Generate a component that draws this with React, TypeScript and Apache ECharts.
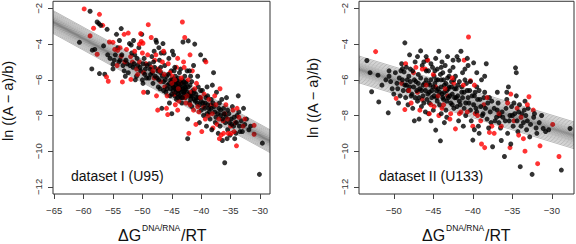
import React, { useEffect, useRef } from "react";
import * as echarts from "echarts";

// ---------- data: panel 1 (dataset I, U95) ----------
const p1Black: number[][] = [
  [-60.7,-3.9],[-58.9,-2.16],[-58.6,-5.39],[-58.5,-4.34],[-58.1,-4.3],[-57.7,-2.76],[-57.4,-2.85],[-57.1,-2.95],[-57.3,-5.65],
  [-56.4,-5.69],[-56.0,-3.17],[-55.0,-5.13],[-55.0,-5.39],[-54.4,-3.45],[-53.6,-3.13],[-54.6,-4.6],[-53.8,-4.9],[-53.3,-5.2],[-53.1,-5.5],[-54.2,-4.2],
  [-52.6,-5.1],[-52.2,-3.97],[-51.9,-4.05],[-52.4,-5.6],[-51.6,-5.3],[-51.3,-4.6],[-51.0,-5.8],[-50.8,-5.2],[-50.6,-4.2],[-50.3,-5.5],[-50.0,-6.0],[-50.1,-3.45],[-49.7,-4.8],[-49.5,-5.4],[-49.3,-5.9],[-49.1,-6.7],[-49.9,-6.2],[-51.2,-6.0],[-52.9,-5.8],
  [-48.8,-5.1],[-48.6,-5.7],[-48.4,-4.7],[-48.2,-6.2],[-47.9,-5.3],[-47.7,-3.78],[-47.6,-3.9],[-47.5,-5.9],[-47.3,-6.4],[-47.1,-4.9],[-46.9,-5.6],[-46.7,-7.6],[-46.5,-3.97],[-46.4,-6.1],[-46.2,-5.2],[-46.0,-6.7],[-45.9,-5.8],[-45.7,-6.3],[-45.5,-4.8],[-45.3,-6.9],[-45.2,-6.0],[-45.0,-7.9],[-45.1,-5.5],[-48.0,-4.4],[-46.8,-4.5],[-46.3,-4.5],
  [-44.9,-6.3],[-44.8,-6.6],[-44.7,-4.6],[-44.6,-6.1],[-44.5,-6.9],[-44.4,-5.8],[-44.3,-6.4],[-44.2,-7.1],[-44.1,-6.2],[-44.0,-6.6],[-43.9,-5.9],[-43.8,-6.3],[-43.7,-6.9],[-43.6,-6.1],[-43.5,-5.4],[-43.4,-6.5],[-43.3,-7.3],[-43.2,-6.0],[-43.1,-3.88],[-43.0,-6.7],[-42.9,-6.3],[-42.8,-5.8],[-42.7,-7.0],[-42.6,-6.5],[-42.5,-6.1],[-42.4,-5.5],[-42.3,-8.2],[-42.3,-9.3],[-42.2,-3.82],[-42.1,-6.8],[-42.0,-7.3],[-41.9,-6.3],[-41.8,-5.8],[-41.7,-6.9],[-41.6,-7.5],[-41.4,-6.6],[-41.3,-5.2],[-41.2,-7.1],[-41.1,-4.0],[-44.3,-6.7],[-43.9,-6.8],[-44.6,-5.5],[-43.4,-7.0],[-42.8,-6.6],
  [-40.9,-6.8],[-40.7,-7.3],[-40.5,-6.4],[-40.3,-8.4],[-40.2,-7.0],[-40.0,-7.7],[-39.8,-6.6],[-39.6,-8.0],[-39.4,-4.9],[-39.3,-7.3],[-39.1,-8.6],[-38.9,-6.9],[-38.7,-7.6],[-38.5,-8.2],[-38.3,-7.1],[-38.1,-6.3],[-37.9,-5.6],[-37.8,-7.5],[-37.6,-8.4],[-37.4,-6.7],[-37.2,-7.9],[-37.1,-9.0],[-40.6,-5.8],[-39.0,-7.9],
  [-36.9,-7.3],[-36.7,-8.0],[-36.4,-9.4],[-36.2,-7.6],[-36.0,-10.65],[-35.9,-8.4],[-35.7,-7.0],[-35.5,-8.8],[-35.3,-7.9],[-35.1,-9.1],[-34.9,-8.2],[-34.7,-7.5],[-34.5,-8.6],[-34.3,-9.3],[-34.1,-9.0],[-33.9,-8.0],[-33.7,-6.9],[-33.6,-7.8],[-33.4,-8.9],[-33.2,-8.3],[-36.5,-7.1],
  [-32.6,-8.5],[-32.3,-8.2],[-31.9,-8.8],[-31.6,-8.6],[-29.6,-9.55],[-30.1,-11.3],[-32.8,-7.6],
  [-55.5,-4.8],[-54.8,-4.9],[-54.0,-5.0],[-53.5,-4.6],[-52.8,-4.9],[-52.1,-5.2],[-51.8,-4.5],[-51.4,-5.1],[-50.9,-4.8],[-50.4,-5.3],[-49.9,-5.1],[-49.6,-5.7],[-49.2,-5.2],[-48.9,-5.9],[-48.7,-5.4],[-48.3,-5.6],[-48.1,-5.0],[-47.8,-5.8],[-47.4,-5.5],[-47.2,-6.0],[-46.9,-5.3],[-46.6,-5.8],[-46.1,-6.0],[-45.8,-6.5],[-45.6,-5.7],[-45.4,-6.2],[-45.2,-6.5],[-44.9,-6.0],[-44.7,-6.4],[-44.5,-6.2],[-44.4,-6.5],[-44.2,-6.0],[-44.1,-6.5],[-43.9,-6.2],[-43.8,-6.6],[-43.6,-6.4],[-43.5,-6.7],[-43.3,-6.2],[-43.1,-6.5],[-43.0,-6.1],[-42.9,-6.8],[-42.7,-6.4],[-42.6,-6.2],[-42.4,-6.7],[-42.2,-6.4],[-42.0,-6.9],[-41.8,-7.1],[-41.5,-6.9],[-41.2,-6.7],[-41.0,-7.2],[-40.8,-7.0],[-40.5,-7.0],[-40.3,-7.4],[-40.0,-7.2],[-39.7,-7.3],[-39.4,-7.6],[-39.2,-7.0],[-38.9,-7.4],[-38.6,-7.8],[-38.3,-7.6],[-38.0,-7.3],[-37.7,-7.8],[-37.5,-8.1],[-37.0,-7.6],[-36.7,-7.7],[-36.4,-8.2],[-36.1,-7.9],[-35.8,-8.1],[-35.5,-7.7],[-35.2,-8.4],[-34.8,-8.5],[-34.4,-8.1],[-34.0,-8.4],[-33.5,-8.6],[-33.0,-8.9],[-44.0,-7.0],[-43.2,-7.0],[-45.0,-6.8],[-45.4,-7.3],[-46.4,-6.6],[-47.0,-6.5],[-41.6,-6.1],[-40.1,-6.6],[-39.0,-6.4],[-38.2,-8.8],[-36.8,-8.6],[-35.6,-9.3],[-44.5,-5.3],[-43.7,-5.6],[-42.0,-5.5],[-51.5,-3.8],[-53.9,-3.8],[-56.6,-4.1],[-55.9,-4.6],[-47.2,-4.2],[-44.9,-4.4],[-40.1,-4.6]
];
const p1Red: number[][] = [
  [-59.9,-2.03],[-57.3,-2.33],[-56.75,-2.95],[-58.3,-3.11],[-58.9,-3.54],[-57.7,-4.57],
  [-55.6,-3.88],[-56.1,-5.84],[-55.8,-6.08],[-53.4,-6.12],[-54.7,-4.3],[-54.2,-4.35],[-53.6,-4.68],[-53.1,-3.45],[-53.0,-5.0],
  [-52.4,-3.38],[-51.95,-5.98],[-50.3,-3.41],[-50.2,-3.85],[-49.9,-3.95],[-50.5,-4.0],[-49.0,-2.91],[-51.7,-5.0],[-51.0,-5.4],[-50.5,-5.0],[-49.8,-5.6],[-49.4,-5.1],[-52.0,-4.7],[-49.8,-6.7],
  [-48.5,-3.63],[-48.5,-5.3],[-48.0,-5.9],[-47.6,-6.9],[-47.3,-5.4],[-46.9,-6.1],[-46.4,-4.4],[-46.2,-6.4],[-45.9,-7.6],[-45.7,-7.95],[-45.6,-5.1],[-45.3,-5.6],[-47.9,-4.9],[-46.6,-5.0],
  [-44.9,-5.8],[-44.6,-6.8],[-44.2,-5.3],[-43.8,-7.2],[-43.5,-6.2],[-43.2,-2.76],[-42.8,-3.63],[-42.9,-5.3],[-42.6,-7.3],[-42.1,-9.0],[-42.2,-6.0],[-41.8,-6.7],[-41.5,-5.5],[-41.3,-7.7],[-44.0,-4.8],[-43.0,-5.0],[-41.9,-4.6],[-44.4,-7.4],
  [-40.8,-6.2],[-40.4,-7.8],[-39.9,-8.9],[-39.5,-6.8],[-39.2,-5.0],[-38.8,-8.0],[-38.4,-7.4],[-38.0,-8.7],[-37.7,-6.9],[-37.3,-8.5],[-39.6,-7.5],
  [-36.8,-6.5],[-36.6,-9.1],[-36.3,-8.3],[-35.8,-7.4],[-35.4,-9.0],[-35.0,-8.6],[-34.6,-7.7],[-34.2,-8.4],[-34.0,-9.7],[-33.6,-8.1],[-36.0,-7.9],
  [-32.6,-8.2],[-31.0,-8.55],[-31.0,-9.05],
  [-54.3,-5.2],[-52.7,-4.3],[-51.3,-4.4],[-50.8,-5.7],[-50.0,-4.5],[-49.1,-4.6],[-48.2,-5.5],[-47.7,-4.6],[-47.0,-5.5],[-46.3,-5.7],[-45.8,-6.9],[-45.0,-6.2],[-44.5,-6.0],[-43.9,-6.5],[-43.4,-5.9],[-42.9,-7.0],[-42.4,-6.9],[-41.9,-7.4],[-41.1,-6.5],[-40.6,-7.5],[-40.1,-7.0],[-39.3,-8.2],[-38.7,-7.1],[-38.1,-7.9],[-37.5,-7.4],[-37.0,-8.2],[-36.2,-9.0],[-35.5,-8.2],[-34.9,-9.0],[-34.4,-8.9],[-33.9,-7.6],[-32.9,-8.6],[-47.4,-7.7],[-44.0,-7.7],[-40.9,-8.5],[-36.9,-9.3],[-55.0,-3.9],[-53.8,-4.2]
];

// ---------- data: panel 2 (dataset II, U133) ----------
const p2Black: number[][] = [
  [-53.4,-4.92],[-52.8,-6.67],[-52.0,-5.74],[-51.9,-7.24],[-50.7,-7.85],[-50.6,-5.5],[-50.6,-5.8],[-50.2,-6.5],[-50.0,-6.8],
  [-49.6,-6.2],[-49.3,-5.9],[-49.0,-5.1],[-48.9,-5.37],[-48.8,-6.6],[-48.7,-5.56],[-48.6,-3.93],[-48.5,-7.0],[-48.3,-6.0],[-48.2,-7.4],[-48.0,-6.4],[-47.9,-5.4],[-47.7,-6.8],[-47.6,-7.6],[-47.4,-8.3],[-47.3,-5.0],[-47.2,-6.1],[-47.0,-7.2],[-46.9,-5.7],[-46.7,-6.5],[-46.6,-4.38],[-46.5,-7.5],[-46.4,-5.2],[-46.3,-6.9],[-46.1,-6.2],[-46.0,-7.8],[-49.2,-6.9],[-48.4,-6.3],[-47.5,-6.4],[-46.2,-5.0],
  [-45.9,-6.0],[-45.8,-4.9],[-45.7,-6.8],[-45.6,-5.5],[-45.5,-7.3],[-45.4,-6.3],[-45.3,-5.1],[-45.2,-6.6],[-45.0,-7.7],[-44.9,-5.8],[-44.8,-6.2],[-44.7,-8.82],[-44.6,-7.0],[-44.5,-5.4],[-44.4,-6.5],[-44.3,-4.4],[-44.2,-7.4],[-44.1,-9.42],[-44.0,-6.0],[-43.9,-6.8],[-43.8,-5.6],[-43.7,-7.1],[-43.6,-6.3],[-43.5,-5.2],[-43.4,-7.7],[-43.3,-6.6],[-43.2,-5.9],[-43.1,-7.0],[-43.0,-6.4],[-42.9,-5.5],[-42.8,-7.3],[-42.7,-6.1],[-42.6,-6.8],[-42.5,-5.3],[-42.4,-7.6],[-42.3,-6.5],[-42.2,-5.8],[-42.1,-7.0],[-45.1,-5.3],[-44.6,-6.0],[-43.9,-5.0],[-43.3,-8.1],[-42.5,-4.9],[-45.6,-7.9],[-44.0,-7.9],
  [-41.9,-6.3],[-41.8,-4.9],[-41.7,-7.2],[-41.5,-4.4],[-41.4,-6.7],[-41.3,-5.6],[-41.1,-7.6],[-41.0,-6.0],[-40.9,-8.0],[-40.7,-6.6],[-40.6,-5.2],[-40.5,-7.3],[-40.3,-6.1],[-40.2,-8.3],[-40.0,-9.38],[-39.9,-5.05],[-39.8,-6.9],[-39.6,-7.6],[-39.5,-6.4],[-39.3,-8.6],[-39.1,-7.1],[-38.9,-6.0],[-38.7,-7.9],[-38.5,-6.7],[-38.3,-5.1],[-38.2,-8.2],[-41.2,-8.6],[-39.2,-9.0],
  [-37.9,-7.0],[-37.7,-8.4],[-37.5,-9.75],[-37.3,-7.6],[-37.0,-8.1],[-36.8,-7.3],[-36.5,-8.7],[-36.3,-7.8],[-36.0,-10.3],[-35.9,-8.3],[-35.7,-7.1],[-35.5,-6.4],[-35.3,-8.0],[-35.1,-7.5],[-34.9,-8.6],[-34.7,-7.9],[-34.6,-5.33],[-34.5,-6.9],[-34.3,-8.9],[-34.1,-7.4],[-34.0,-10.87],[-35.6,-9.0],[-36.6,-8.0],
  [-33.8,-7.9],[-33.6,-8.4],[-33.4,-7.2],[-33.2,-8.8],[-33.0,-7.6],[-32.8,-9.2],[-32.5,-11.3],[-32.3,-8.1],[-32.0,-8.7],[-31.6,-8.4],[-31.1,-8.73],[-30.4,-8.8],[-28.8,-11.06],[-27.7,-8.73],[-33.1,-8.3],
  [-53.0,-5.6],[-51.5,-6.3],[-51.0,-6.0],[-50.4,-6.1],[-49.8,-5.6],[-49.5,-6.5],[-49.4,-7.3],[-49.1,-5.5],[-48.9,-6.0],[-48.6,-6.3],[-48.4,-5.3],[-48.2,-6.6],[-48.1,-5.8],[-47.9,-6.1],[-47.8,-6.9],[-47.6,-5.5],[-47.4,-6.0],[-47.3,-7.0],[-47.1,-6.6],[-46.9,-6.2],[-46.8,-7.0],[-46.6,-5.9],[-46.5,-6.6],[-46.3,-6.3],[-46.2,-7.3],[-46.0,-6.6],[-45.9,-5.5],[-45.8,-7.1],[-45.6,-6.2],[-45.5,-6.7],[-45.3,-6.0],[-45.2,-7.0],[-45.0,-6.4],[-44.9,-6.9],[-44.8,-5.5],[-44.6,-6.6],[-44.5,-7.2],[-44.4,-6.0],[-44.2,-6.7],[-44.1,-5.7],[-44.0,-6.4],[-43.8,-7.0],[-43.7,-6.0],[-43.6,-6.7],[-43.4,-6.2],[-43.3,-7.2],[-43.1,-6.5],[-43.0,-5.8],[-42.9,-6.9],[-42.7,-6.4],[-42.6,-7.4],[-42.4,-6.0],[-42.3,-7.0],[-42.1,-6.5],[-42.0,-7.5],[-41.9,-6.9],[-41.7,-6.1],[-41.6,-7.4],[-41.4,-6.4],[-41.3,-7.0],[-41.1,-6.7],[-40.9,-7.3],[-40.8,-6.2],[-40.6,-7.0],[-40.4,-6.6],[-40.3,-7.7],[-40.1,-6.9],[-39.9,-7.4],[-39.7,-6.7],[-39.5,-7.8],[-39.4,-7.1],[-39.2,-6.6],[-39.0,-7.5],[-38.8,-8.0],[-38.6,-7.0],[-38.4,-7.6],[-38.1,-7.3],[-37.8,-7.8],[-37.6,-7.2],[-37.2,-8.3],[-36.9,-7.7],[-36.7,-8.4],[-36.2,-8.1],[-35.8,-7.6],[-35.4,-8.3],[-35.0,-8.0],[-34.8,-7.3],[-34.4,-8.3],[-34.2,-7.8],[-33.9,-8.6],[-33.5,-7.7],[-33.3,-8.0],[-32.7,-8.5],[-32.2,-7.9],[-31.9,-9.0],[-31.3,-8.0],[-30.8,-8.9],[-45.9,-4.7],[-47.0,-4.7],[-44.7,-4.8],[-43.2,-4.7],[-42.0,-4.7],[-40.7,-4.8],[-39.5,-5.6],[-43.6,-8.4],[-41.8,-8.3],[-45.3,-8.3],[-46.8,-8.2],[-38.0,-8.7],[-39.8,-8.8],[-36.4,-9.4],[-35.2,-9.6],[-34.5,-5.6],[-35.7,-6.7],[-36.9,-6.7],[-38.5,-5.8],[-41.0,-5.4],[-44.0,-5.3],[-48.0,-4.6]
];
const p2Red: number[][] = [
  [-52.3,-4.42],[-49.7,-7.04],
  [-48.6,-7.67],[-48.5,-5.1],[-47.5,-5.6],[-47.0,-6.7],[-46.4,-7.1],[-46.0,-5.4],[-49.0,-6.2],[-47.8,-7.3],
  [-45.7,-4.9],[-45.3,-7.4],[-44.7,-6.4],[-44.3,-8.0],[-43.7,-7.4],[-43.2,-6.9],[-42.8,-7.9],[-42.4,-6.2],[-42.2,-8.75],[-45.0,-5.7],
  [-41.1,-4.9],[-40.55,-3.6],[-40.3,-6.05],[-39.7,-7.9],[-39.0,-8.3],[-38.9,-9.6],[-38.5,-9.8],[-38.6,-7.4],[-41.5,-7.8],[-40.0,-8.6],
  [-37.9,-8.95],[-37.3,-9.0],[-36.4,-8.6],[-35.3,-9.8],[-35.2,-6.8],[-34.8,-8.3],[-34.4,-7.6],[-34.2,-9.1],
  [-33.4,-10.0],[-32.9,-6.95],[-32.35,-7.7],[-31.8,-10.7],[-31.5,-9.7],[-29.9,-8.5],[-29.1,-10.3],[-33.6,-9.3],
  [-48.1,-6.6],[-47.2,-5.3],[-46.7,-7.7],[-45.9,-6.3],[-45.5,-7.9],[-44.9,-7.5],[-44.4,-6.9],[-43.9,-7.6],[-43.5,-6.5],[-42.9,-8.2],[-42.6,-5.9],[-41.7,-7.9],[-41.2,-6.3],[-40.7,-7.8],[-39.8,-6.3],[-39.4,-8.0],[-38.2,-7.0],[-37.6,-8.6],[-36.7,-7.9],[-35.6,-7.3],[-33.9,-8.1],[-33.1,-7.4],[-46.4,-5.4]
];

// fitted line end points and spread of the band of lines
const p1Fit: number[][] = [[-65.2, -2.76], [-28.3, -9.44]];
const p2Fit: number[][] = [[-54.4, -5.42], [-27.2, -9.11]];
const p1Spread = 0.64;
const p2Spread = 0.75;
const bandOffsets = [-1, -0.9, -0.8, -0.7, -0.61, -0.52, -0.44, -0.37, -0.3, -0.24, -0.18, -0.13, -0.08, -0.04, 0, 0.04, 0.08, 0.13, 0.18, 0.24, 0.3, 0.37, 0.44, 0.52, 0.61, 0.7, 0.8, 0.9, 1];

const xTicks1 = [-65, -60, -55, -50, -45, -40, -35, -30];
const xTicks2 = [-50, -45, -40, -35, -30];
const yTicks = [-12, -10, -8, -6, -4, -2];

const yRange = [-12.4, -1.6];
const xRange1 = [-65.2, -28.3];
const xRange2 = [-54.4, -27.2];

const titles = ["dataset I (U95)", "dataset II (U133)"];

const FONT = "'Liberation Sans', Arial, Helvetica, sans-serif";
const minus = (v: number) => String(v).replace("-", "\u2212");

// draw order: red points are plotted among the black ones (as in the original plotting order)
function mixOrder(black: number[][], red: number[][]) {
  const out: { value: number[]; itemStyle: { color: string } }[] = [];
  const step = black.length / red.length;
  let r = 0;
  black.forEach((b, i) => {
    out.push({ value: b, itemStyle: { color: "#000" } });
    while (r < red.length && (r + 1) * step <= i + 1) {
      out.push({ value: red[r], itemStyle: { color: "#ff0000" } });
      r++;
    }
  });
  while (r < red.length) {
    out.push({ value: red[r], itemStyle: { color: "#ff0000" } });
    r++;
  }
  return out;
}

export default function App() {
  const ref = useRef<HTMLDivElement>(null);
  useEffect(() => {
    document.body.style.margin = "0";
    if (!ref.current) return;
    const chart = echarts.init(ref.current, undefined, { renderer: "svg" });

    const grids = [
      { left: 53, top: 1, width: 217, height: 193 },
      { left: 359, top: 1, width: 215, height: 193 },
    ];

    const mkX = (i: number, range: number[], ticks: number[]) => ({
      type: "value",
      gridIndex: i,
      min: range[0],
      max: range[1],
      splitLine: { show: false },
      axisLine: { show: false },
      axisTick: { show: true, length: 5, customValues: ticks, lineStyle: { color: "#444", width: 1 } },
      axisLabel: {
        customValues: ticks,
        formatter: (v: number) => minus(v),
        fontSize: 9.5,
        fontFamily: FONT,
        color: "#333",
        margin: 11,
      },
    });
    const mkY = (i: number) => ({
      type: "value",
      gridIndex: i,
      min: yRange[0],
      max: yRange[1],
      splitLine: { show: false },
      axisLine: { show: false },
      axisTick: { show: true, length: 5, customValues: yTicks, lineStyle: { color: "#444", width: 1 } },
      axisLabel: {
        customValues: yTicks,
        formatter: (v: number) => minus(v),
        rotate: 90,
        fontSize: 9.5,
        fontFamily: FONT,
        color: "#333",
        margin: 10,
      },
    });

    const bandSeries = (idx: number, fit: number[][], spread: number) =>
      bandOffsets.map((o) => ({
        type: "line",
        xAxisIndex: idx,
        yAxisIndex: idx,
        data: fit.map((p) => [p[0], p[1] + o * spread]),
        symbol: "none",
        silent: true,
        z: 5,
        lineStyle: { color: "rgba(0,0,0,0.5)", width: 0.55 },
      }));

    const scatter = (idx: number, black: number[][], red: number[][]) => ({
      type: "scatter",
      xAxisIndex: idx,
      yAxisIndex: idx,
      data: mixOrder(black, red),
      symbol: "circle",
      symbolSize: 5,
      z: 3,
    });

    const titleText = (x: number, y: number, text: string) => ({
      type: "text",
      x,
      y,
      style: { text, fontSize: 14, fontFamily: FONT, fill: "#111", align: "left", verticalAlign: "middle" },
    });

    const ylab = (x: number, y: number) => ({
      type: "text",
      x,
      y,
      rotation: Math.PI / 2,
      style: { text: "ln ((A \u2212 a)/b)", fontSize: 14.5, fontFamily: FONT, fill: "#111", align: "center", verticalAlign: "middle" },
    });

    const xlab = (x: number) => ({
      type: "group",
      x,
      y: 0,
      children: [
        { type: "text", x: 0, y: 243, style: { text: "\u0394G", fontSize: 16, fontFamily: FONT, fill: "#111", align: "left", verticalAlign: "bottom" } },
        { type: "text", x: 24, y: 232, style: { text: "DNA/RNA", fontSize: 8.5, fontFamily: FONT, fill: "#111", align: "left", verticalAlign: "bottom" } },
        { type: "text", x: 63, y: 243, style: { text: "/RT", fontSize: 16, fontFamily: FONT, fill: "#111", align: "left", verticalAlign: "bottom" } },
      ],
    });

    chart.setOption({
      animation: false,
      backgroundColor: "#fff",
      grid: grids.map((g) => ({ ...g, show: true, borderColor: "#333", borderWidth: 1, backgroundColor: "transparent" })),
      xAxis: [mkX(0, xRange1, xTicks1), mkX(1, xRange2, xTicks2)],
      yAxis: [mkY(0), mkY(1)],
      series: [
        scatter(0, p1Black, p1Red),
        ...bandSeries(0, p1Fit, p1Spread),
        scatter(1, p2Black, p2Red),
        ...bandSeries(1, p2Fit, p2Spread),
      ],
      graphic: [
        ylab(8, 101),
        ylab(313, 98),
        titleText(71, 176, titles[0]),
        titleText(379, 176, titles[1]),
        xlab(118),
        xlab(422),
      ],
    });
    return () => chart.dispose();
  }, []);
  return <div ref={ref} style={{ width: 576, height: 244 }} />;
}
